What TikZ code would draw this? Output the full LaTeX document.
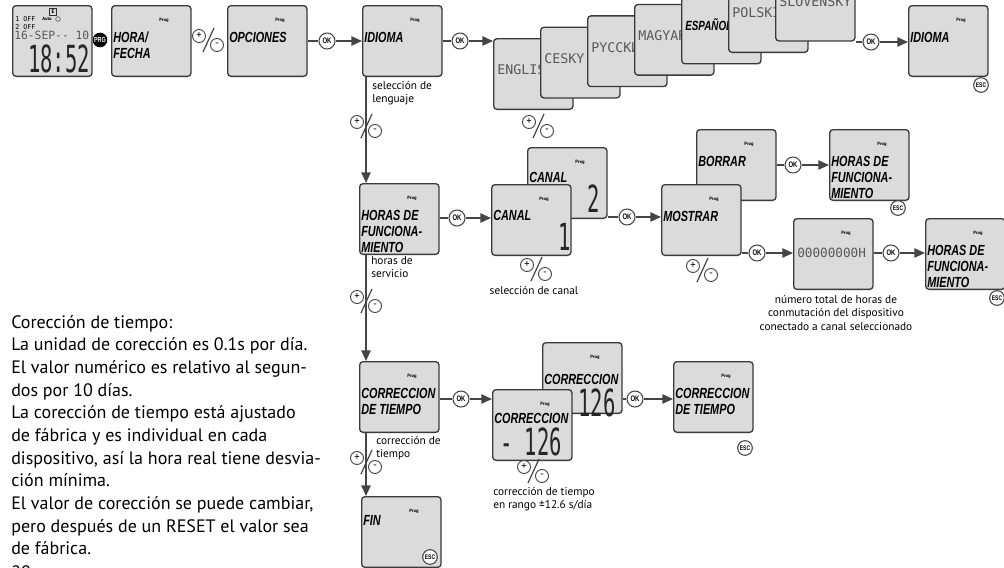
\documentclass[tikz,border=0pt]{standalone}
\usepackage{fontspec}
\setmainfont{PT Sans}
\newfontfamily\lcdfont{Liberation Sans}[FakeStretch=0.74]
\newfontfamily\segfont{DejaVu Sans Mono}
\newfontfamily\digitfont{DejaVu Sans Mono}[FakeStretch=0.55]
\usepackage{tikz}
\usetikzlibrary{arrows.meta, positioning, calc}
\definecolor{LCD_Fill}{HTML}{DBDBDB}
\definecolor{LCD_Frame}{HTML}{3A3A3A}
\definecolor{Flow_Gray}{HTML}{454545}

\begin{document}
\begin{tikzpicture}[x=0.75pt, y=-0.75pt,
  lcd/.style={draw=LCD_Frame, line width=1pt, fill=LCD_Fill, rounded corners=2.5pt,
    minimum width=59.5pt, minimum height=53pt, inner sep=0pt, anchor=north west},
  lcdtxt/.style={font=\fontsize{11}{12}\selectfont\lcdfont\bfseries\itshape, anchor=north west, align=left, inner sep=0pt},
  segtxt/.style={font=\fontsize{10}{10}\selectfont\segfont, text=black!65, anchor=west, inner sep=0pt},
  bigdigit/.style={font=\fontsize{28}{28}\selectfont\digitfont, text=black!85, inner sep=0pt},
  lcdsmall/.style={font=\fontsize{5}{5}\selectfont\segfont, inner sep=0pt},
  prog/.style={font=\fontsize{3.5}{3.5}\selectfont\bfseries, inner sep=0pt},
  ok/.style={circle, draw=Flow_Gray, fill=white, line width=0.8pt, minimum size=12pt, inner sep=0pt, font=\fontsize{6}{6}\selectfont\lcdfont\bfseries},
  esc/.style={ok, minimum size=11pt, font=\fontsize{5}{5}\selectfont\lcdfont\bfseries},
  flow/.style={draw=Flow_Gray, line width=1.1pt},
  arr/.style={flow, -{Triangle[length=8pt, width=7pt]}},
  note/.style={font=\fontsize{8.5}{10}\selectfont, align=left, inner sep=0pt, anchor=north west},
  textblock/.style={font=\fontsize{13.5}{17}\selectfont, align=left, inner sep=0pt, anchor=north west},
  pm/.pic={
    \draw[Flow_Gray, line width=0.9pt] (6,-12) -- (-5,12);
    \draw[Flow_Gray, line width=0.7pt, fill=white] (-9,-4) circle[radius=6.5] (9,5) circle[radius=6.5];
    \node[font=\fontsize{8}{8}\selectfont, inner sep=0pt] at (-9,-4.5) {+};
    \node[font=\fontsize{8}{8}\selectfont, inner sep=0pt] at (9,4.5) {-};
  }]
\clip (0,0) rectangle (1004,568);
\fill[white] (0,0) rectangle (1004,568);

% --- Row 1: clock, menu, language ---
\node[lcd] (clock) at (12,5) {};
\node[draw=black!80, line width=0.4pt, minimum size=5pt, inner sep=0pt, font=\fontsize{4}{4}\selectfont\bfseries] (clockicon) at (53,12) {E};
\node[lcdsmall, anchor=west] at (15,19) {1 OFF};
\node[prog] at (47,19) {Auto};
\node[circle, draw=black!70, line width=0.4pt, minimum size=3.5pt, inner sep=0pt] at (58,19) {};
\node[lcdsmall, anchor=west] at (15,27) {2 OFF};
\node[segtxt, font=\fontsize{8.5}{8.5}\selectfont\segfont] at (14,35) {16-SEP-- 10};
\node[bigdigit] at (59,59) {18:52};
\node[circle, fill=black, minimum size=11pt, inner sep=0pt, text=white, font=\fontsize{5.5}{5.5}\selectfont\lcdfont\bfseries] (prg) at (100,40) {PRG};

\node[lcd] (horafecha) at (111,5) {};
\node[lcdtxt] at ([shift={(2,27)}]horafecha.north west) {HORA/\\FECHA};
\pic at (208,40) {pm};
\node[lcd] (opciones) at (227,5) {};
\node[lcdtxt] at ([shift={(2,27)}]opciones.north west) {OPCIONES};
\node[ok] (ok1) at (327,41) {OK};
\node[lcd] (idioma) at (362,5) {};
\node[lcdtxt] at ([shift={(2,27)}]idioma.north west) {IDIOMA};
\node[ok] (ok2) at (460,41) {OK};
\foreach \lang [count=\i from 0] in {ENGLISH, CESKY, PYCCKИ, MAGYAR, {\color{black}\lcdfont\bfseries\itshape ESPAÑOL}, POLSKI, SLOVENSKY} {
  \node[lcd] (lang\i) at ({493+47*\i},{38-11.4*\i}) {};
  \node[segtxt] at ([shift={(4,32)}]lang\i.north west) {\lang};
}
\node[ok] (ok3) at (871,42) {OK};
\node[lcd] (idiomaend) at (908,5) {};
\node[lcdtxt] at ([shift={(2,27)}]idiomaend.north west) {IDIOMA};
\node[esc] (esc1) at (981,85) {ESC};
\draw[flow] (opciones.east |- ok1) -- (ok1);
\draw[arr] (ok1) -- (ok1 -| idioma.west);
\draw[flow] (idioma.east |- ok2) -- (ok2);
\draw[arr] (ok2) -- (ok2 -| lang0.west);
\draw[flow] (lang6.south east |- ok3) -- (ok3);
\draw[arr] (ok3) -- (ok3 -| idiomaend.west);
\pic at (538,126) {pm};

% --- Row 2: operating hours ---
\node[lcd] (horas) at (359,183) {};
\node[lcdtxt] at ([shift={(2,27)}]horas.north west) {HORAS DE\\FUNCIONA-\\MIENTO};
\node[ok] (ok4) at (457,218) {OK};
\node[lcd] (canal2) at (527,147) {};
\node[lcdtxt] at ([shift={(2,25)}]canal2.north west) {CANAL};
\node[bigdigit] at (594,199) {2};
\node[lcd] (canal1) at (491,184) {};
\node[lcdtxt] at ([shift={(2,26)}]canal1.north west) {CANAL};
\node[bigdigit] at (565,237) {1};
\pic at (536,269) {pm};
\node[ok] (ok5) at (627,217) {OK};
\node[lcd] (borrar) at (696,129) {};
\node[lcdtxt] at ([shift={(2,27)}]borrar.north west) {BORRAR};
\node[lcd] (mostrar) at (661,184) {};
\node[lcdtxt] at ([shift={(2,27)}]mostrar.north west) {MOSTRAR};
\pic at (702,270) {pm};
\node[ok] (ok6) at (793,165) {OK};
\node[lcd] (horasdel) at (829,129) {};
\node[lcdtxt] at ([shift={(2,27)}]horasdel.north west) {HORAS DE\\FUNCIONA-\\MIENTO};
\node[esc] (esc2) at (898,208) {ESC};
\node[ok] (ok7) at (757,253) {OK};
\node[lcd] (count) at (793,218) {};
\node[segtxt, font=\fontsize{9.5}{9.5}\selectfont\segfont] at ([shift={(4,35)}]count.north west) {00000000H};
\node[ok] (ok8) at (891,253) {OK};
\node[lcd] (horastot) at (925,218) {};
\node[lcdtxt] at ([shift={(2,27)}]horastot.north west) {HORAS DE\\FUNCIONA-\\MIENTO};
\node[esc] (esc3) at (997,298) {ESC};
\draw[flow] (horas.east |- ok4) -- (ok4);
\draw[arr] (ok4) -- (ok4 -| canal1.west);
\draw[flow] (canal2.east |- ok5) -- (ok5);
\draw[arr] (ok5) -- (ok5 -| mostrar.west);
\draw[flow] (borrar.east |- ok6) -- (ok6);
\draw[arr] (ok6) -- (ok6 -| horasdel.west);
\draw[flow] (mostrar.east |- ok7) -- (ok7);
\draw[arr] (ok7) -- (ok7 -| count.west);
\draw[flow] (count.east |- ok8) -- (ok8);
\draw[arr] (ok8) -- (ok8 -| horastot.west);

% --- Row 3: time correction ---
\node[lcd] (corr) at (359,361) {};
\node[lcdtxt] at ([shift={(2,27)}]corr.north west) {CORRECCION\\DE TIEMPO};
\node[ok] (ok9) at (461,399) {OK};
\node[lcd] (corrB) at (542,342) {};
\node[lcdtxt] at ([shift={(2,32)}]corrB.north west) {CORRECCION};
\node[bigdigit] at (597,403) {126};
\node[lcd] (corrA) at (492,389) {};
\node[lcdtxt] at ([shift={(2,24)}]corrA.north west) {CORRECCION};
\node[bigdigit] at (531,442) {- 126};
\pic at (533,471) {pm};
\node[ok] (ok10) at (635,399) {OK};
\node[lcd] (corrend) at (673,361) {};
\node[lcdtxt] at ([shift={(2,27)}]corrend.north west) {CORRECCION\\DE TIEMPO};
\node[esc] (esc4) at (745,448) {ESC};
\node[lcd] (fin) at (361,496) {};
\node[lcdtxt] at ([shift={(2,19)}]fin.north west) {FIN};
\node[esc] (esc5) at (430,557) {ESC};
\draw[flow] (corr.east |- ok9) -- (ok9);
\draw[arr] (ok9) -- (ok9 -| corrA.west);
\draw[flow] (corrB.east |- ok10) -- (ok10);
\draw[arr] (ok10) -- (ok10 -| corrend.west);

% Prog marks
\foreach \b in {horafecha, opciones, idioma, idiomaend, horas, canal2, canal1, borrar, mostrar, horasdel, count, horastot, corr, corrB, corrA, corrend, fin} {
  \node[prog] at ([shift={(53,15)}]\b.north west) {Prog};
}

% --- Vertical flow ---
\coordinate (vline) at (366,0);
\draw[arr] (vline |- idioma.south) -- (vline |- horas.north);
\draw[arr] (vline |- horas.south) -- (vline |- corr.north);
\draw[arr] (vline |- corr.south) -- (vline |- fin.north);
\pic at (366,126) {pm};
\pic at (366,301) {pm};
\pic at (366,462) {pm};

% Notes
\node[note] (langnote) at (372,81) {selección de\\lenguaje};
\node[note] (horasnote) at (371,256) {horas de\\servicio};
\node[note] (corrnote) at (376,436) {corrección de\\tiempo};
\node[note, anchor=north, align=center] (canalnote) at (534,286) {selección de canal};
\node[note, anchor=north, align=center] (countnote) at (836,295) {número total de horas de\\conmutación del dispositivo\\conectado a canal seleccionado};
\node[note] (rangenote) at (493,487) {corrección de tiempo\\en rango ±12.6 s/día};

\node[textblock] (info) at (11,315) {Corección de tiempo:\\La unidad de corección es 0.1s por día.\\El valor numérico es relativo al segun-\\dos por 10 días.\\La corección de tiempo está ajustado\\de fábrica y es individual en cada\\dispositivo, así la hora real tiene desvia-\\ción mínima.\\El valor de corección se puede cambiar,\\pero después de un RESET el valor sea\\de fábrica.};
\node[textblock] (pageno) at (11,565) {20};
\end{tikzpicture}
\end{document}
